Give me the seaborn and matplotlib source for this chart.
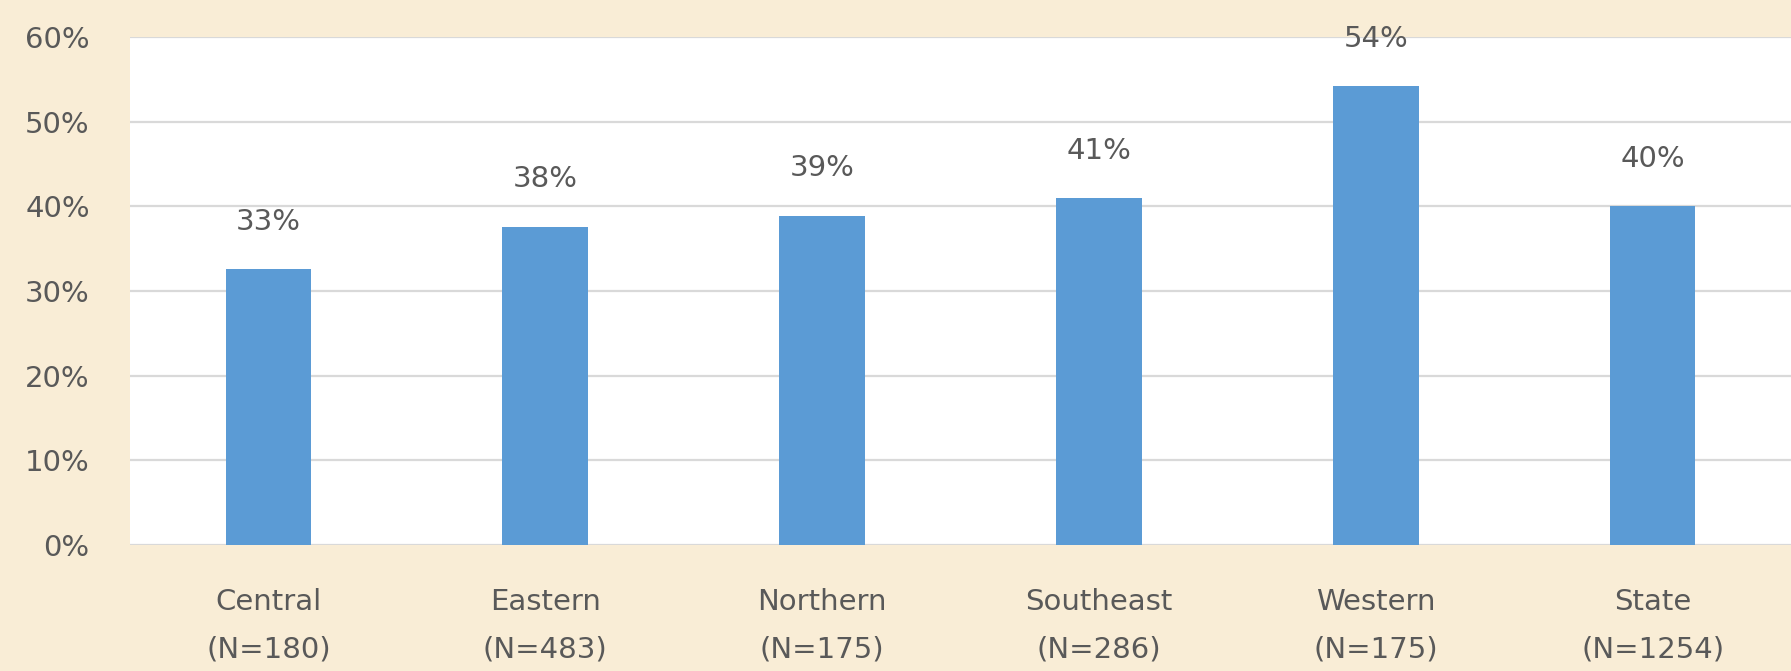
import matplotlib
matplotlib.use("Agg")
import matplotlib.pyplot as plt
import seaborn as sns
from matplotlib.ticker import FuncFormatter

# data
regions = ["Central", "Eastern", "Northern", "Southeast", "Western", "State"]
counts = [180, 483, 175, 286, 175, 1254]
pct = [32.6, 37.6, 38.9, 41.0, 54.2, 40.0]
yticks = [0, 10, 20, 30, 40, 50, 60]

labels = [f"{r}\n(N={n})" for r, n in zip(regions, counts)]

bg = "#F9EDD6"
bar_color = "#5B9BD5"
txt = "#595959"

sns.set_style("white")
plt.rcParams["font.family"] = ["DejaVu Sans"]

fig = plt.figure(figsize=(17.91, 6.71), dpi=100, facecolor=bg)
ax = fig.add_axes([130 / 1791, 1 - 545 / 671, 1 - 130 / 1791, (545 - 37) / 671])
ax.set_facecolor("white")

sns.barplot(x=labels, y=pct, color=bar_color, width=0.31, ax=ax,
            saturation=1, linewidth=0, zorder=3)

ax.set_ylim(0, 60)
ax.set_xlim(-0.5, 5.5)
ax.set_yticks(yticks)
ax.yaxis.set_major_formatter(FuncFormatter(lambda v, p: f"{v:.0f}%"))
ax.grid(axis="y", color="#D9D9D9", linewidth=1.6, zorder=0)
ax.set_axisbelow(True)
for s in ax.spines.values():
    s.set_visible(False)

ax.tick_params(axis="y", length=0, pad=29, labelsize=21, labelcolor=txt)
ax.tick_params(axis="x", length=0, pad=31, labelsize=21, labelcolor=txt)
for t in ax.get_xticklabels():
    t.set_linespacing(1.9)

# value labels above bars
for c in ax.containers:
    lbls = ax.bar_label(c, fmt="{:.0f}%", padding=24, fontsize=21, color=txt)
    for l in lbls:
        l.set_clip_on(False)

fig.savefig("out.png", dpi=100, facecolor=bg)
